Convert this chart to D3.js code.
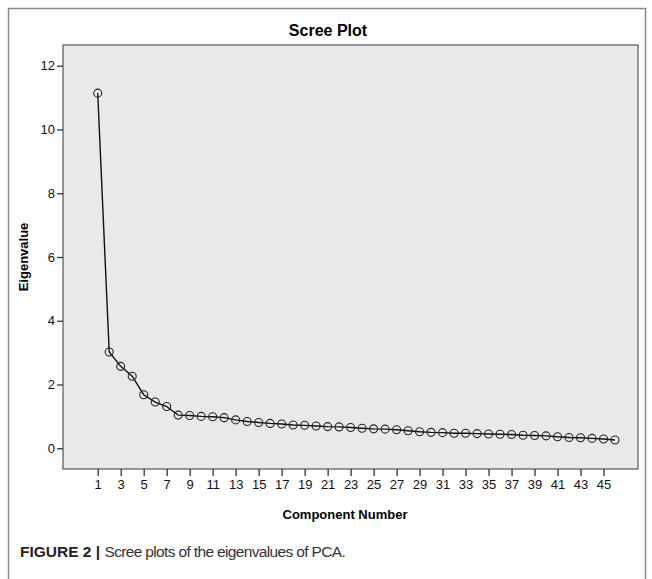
<!DOCTYPE html>
<html>
<head>
<meta charset="utf-8">
<script src="https://cdn.jsdelivr.net/npm/d3@7"></script>
<style>
  body { margin: 0; background: #fff; }
  text { font-family: "Liberation Sans", Arial, sans-serif; }
</style>
</head>
<body>
<script>
/*
DATA
*/
const components = d3.range(1, 47)
const eigenvalues = [11.14, 3.02, 2.57, 2.26, 1.68, 1.45, 1.31, 1.04, 1.03, 1.00,
  0.99, 0.96, 0.89, 0.84, 0.81, 0.78, 0.76, 0.73, 0.72, 0.70,
  0.68, 0.67, 0.65, 0.63, 0.61, 0.60, 0.58, 0.55, 0.52, 0.50,
  0.49, 0.47, 0.47, 0.46, 0.45, 0.44, 0.43, 0.41, 0.40, 0.39,
  0.36, 0.34, 0.33, 0.31, 0.29, 0.26]
const yTicks = [0, 2, 4, 6, 8, 10, 12]
const xTicks = d3.range(1, 46, 2)

/*
SET UP
*/
const w = 652
const h = 579
const plot = ({top: 45, right: 638, bottom: 469, left: 63})

const svg = d3.select("body")
  .append("svg")
  .attr("width", w)
  .attr("height", h);

// outer frame
svg.append("path")
  .attr("d", `M8.5,${h} V8.5 H645.5 V${h}`)
  .attr("fill", "none")
  .attr("stroke", "#8a8a8a")
  .attr("stroke-width", 1.5);

let x = d3.scaleLinear()
  .domain([-2.02, 48.0])
  .range([plot.left, plot.right]);

let y = d3.scaleLinear()
  .domain([-0.65, 12.65])
  .range([plot.bottom, plot.top]);

// plot background
svg.append("rect")
  .attr("x", plot.left)
  .attr("y", plot.top)
  .attr("width", plot.right - plot.left)
  .attr("height", plot.bottom - plot.top)
  .attr("fill", "#e9e9e9")
  .attr("stroke", "#555")
  .attr("stroke-width", 1.2);

/*
AXES
*/
const yAxis = svg.append("g")
  .attr("transform", `translate(${plot.left},0)`)
  .call(d3.axisLeft(y).tickValues(yTicks).tickSize(6).tickPadding(2));

const xAxis = svg.append("g")
  .attr("transform", `translate(0,${plot.bottom})`)
  .call(d3.axisBottom(x).tickValues(xTicks).tickSize(7).tickPadding(4));

[yAxis, xAxis].forEach(a => {
  a.select(".domain").remove();
  a.selectAll("line").attr("stroke", "#333").attr("stroke-width", 1.3);
  a.selectAll("text")
    .attr("fill", "#111")
    .style("font-size", "13px")
    .style("font-family", "Liberation Sans, Arial, sans-serif");
});

/*
LINE + POINTS
*/
const data = components.map((c, i) => ({c: c, v: eigenvalues[i]}))

svg.append("path")
  .datum(data)
  .attr("d", d3.line().x(d => x(d.c)).y(d => y(d.v)))
  .attr("fill", "none")
  .attr("stroke", "#111")
  .attr("stroke-width", 1.4);

svg.selectAll(".point")
  .data(data)
  .join("circle")
  .attr("class", "point")
  .attr("cx", d => x(d.c))
  .attr("cy", d => y(d.v))
  .attr("r", 4)
  .attr("fill", "none")
  .attr("stroke", "#222")
  .attr("stroke-width", 1.1);

/*
TITLES
*/
svg.append("text")
  .attr("x", 328)
  .attr("y", 36)
  .attr("text-anchor", "middle")
  .style("font-size", "16px")
  .style("font-weight", "bold")
  .text("Scree Plot");

svg.append("text")
  .attr("x", 345)
  .attr("y", 519)
  .attr("text-anchor", "middle")
  .style("font-size", "13px")
  .style("font-weight", "bold")
  .text("Component Number");

svg.append("text")
  .attr("transform", `translate(28,${(plot.top + plot.bottom) / 2}) rotate(-90)`)
  .attr("text-anchor", "middle")
  .style("font-size", "13px")
  .style("font-weight", "bold")
  .text("Eigenvalue");

// caption
const cap = svg.append("text")
  .attr("x", 20)
  .attr("y", 557)
  .attr("fill", "#222")
  .style("font-size", "15.5px");
cap.append("tspan").style("font-weight", "bold").text("FIGURE 2 | ");
cap.append("tspan")
  .attr("fill", "#333")
  .style("letter-spacing", "-0.65px")
  .text("Scree plots of the eigenvalues of PCA.");
</script>
</body>
</html>
